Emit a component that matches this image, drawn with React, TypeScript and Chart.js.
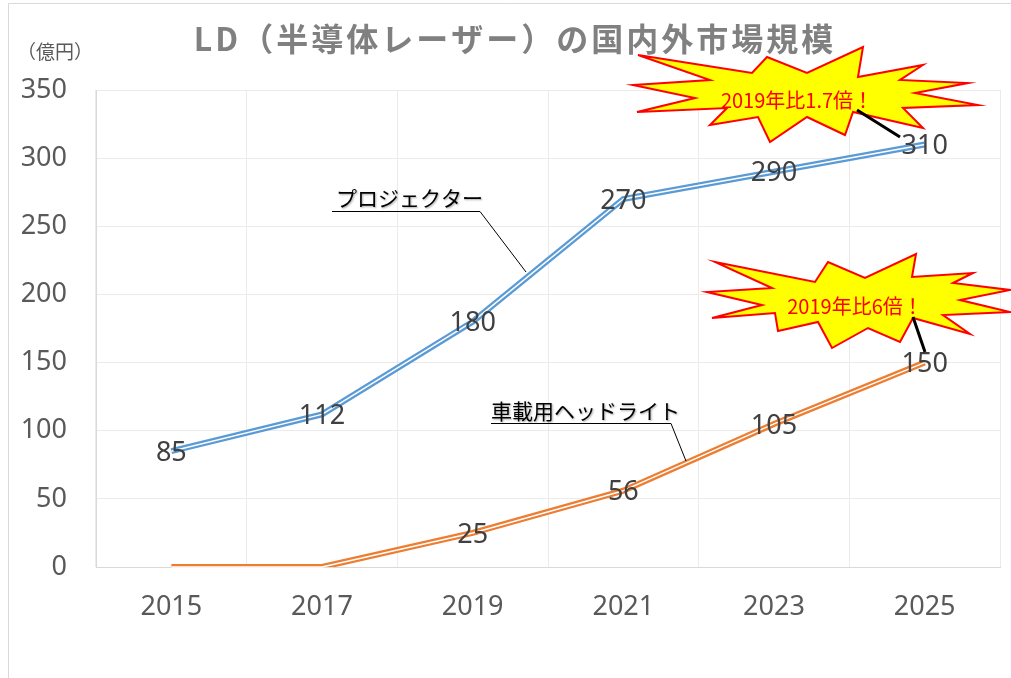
import { useEffect, useRef } from "react";
import { Chart, registerables } from "chart.js";

Chart.register(...registerables);

// ---- data ----
const years = ["2015", "2017", "2019", "2021", "2023", "2025"];
const projector = [85, 112, 180, 270, 290, 310];
const headlight = [0, 0, 25, 56, 105, 150];
const seriesNames = ["プロジェクター", "車載用ヘッドライト"];
const yMin = 0;
const yMax = 350;
const yStep = 50;
const titleText = "LD（半導体レーザー）の国内外市場規模";
const unitText = "（億円）";
const burstTexts = ["2019年比1.7倍！", "2019年比6倍！"];

const NUM_FONT = '"Noto Sans", "Open Sans", sans-serif';
const JP_FONT = '"Noto Sans CJK JP", "Noto Sans", sans-serif';

const BLUE = "#5B9BD5";
const ORANGE = "#ED7D31";

// starburst outlines (pixel space)
const burst1: [number, number][] = [
  [638, 55], [752, 73], [767, 57], [807, 73], [863, 47], [858, 77], [923, 65], [900, 80],
  [968, 83], [915, 93], [978, 105], [903, 108], [923, 128], [853, 112], [845, 135], [807, 117],
  [770, 142], [758, 117], [710, 125], [727, 108], [637, 112], [695, 98], [633, 85], [710, 80],
];
const burst2: [number, number][] = [
  [715, 262], [815, 282], [828, 262], [865, 278], [916, 254], [912, 277], [973, 273], [953, 283],
  [1010, 290], [960, 300], [1010, 312], [943, 315], [970, 334], [913, 318], [900, 342], [868, 328],
  [832, 348], [818, 322], [778, 331], [775, 313], [712, 318], [762, 305], [707, 292], [772, 288],
];

const overlayPlugin = {
  id: "overlay",
  afterDatasetsDraw(chart: any) {
    const ctx = chart.ctx as CanvasRenderingContext2D;
    // white centre stripe of the double line
    chart.data.datasets.forEach((_: any, i: number) => {
      const meta = chart.getDatasetMeta(i);
      ctx.save();
      ctx.beginPath();
      meta.data.forEach((pt: any, j: number) => {
        if (j === 0) ctx.moveTo(pt.x, pt.y);
        else ctx.lineTo(pt.x, pt.y);
      });
      ctx.strokeStyle = "#ffffff";
      ctx.lineWidth = 1.5;
      ctx.lineJoin = "round";
      ctx.stroke();
      ctx.restore();
    });
  },
  afterDraw(chart: any) {
    const ctx = chart.ctx as CanvasRenderingContext2D;
    ctx.save();

    // outer chart border (only top/left visible)
    ctx.strokeStyle = "#d9d9d9";
    ctx.lineWidth = 1;
    ctx.beginPath();
    ctx.moveTo(8.5, 678);
    ctx.lineTo(8.5, 3.5);
    ctx.lineTo(1011, 3.5);
    ctx.stroke();

    // data labels
    ctx.fillStyle = "#404040";
    ctx.font = `27px ${NUM_FONT}`;
    ctx.textAlign = "center";
    ctx.textBaseline = "middle";
    chart.data.datasets.forEach((ds: any, i: number) => {
      const meta = chart.getDatasetMeta(i);
      meta.data.forEach((pt: any, j: number) => {
        const v = ds.data[j];
        if (v === 0) return;
        ctx.fillText(String(v), pt.x, pt.y + 2);
      });
    });

    // title
    ctx.fillStyle = "#808080";
    ctx.font = `bold 32px ${JP_FONT}`;
    (ctx as any).letterSpacing = "3px";
    ctx.textAlign = "center";
    ctx.fillText(titleText, 515, 39);
    (ctx as any).letterSpacing = "0px";

    // unit
    ctx.fillStyle = "#595959";
    ctx.font = `19px ${JP_FONT}`;
    ctx.fillText(unitText, 55, 52);

    // series callouts
    ctx.fillStyle = "#000000";
    ctx.font = `21px ${JP_FONT}`;
    ctx.textAlign = "left";
    ctx.shadowColor = "rgba(0,0,0,0.35)";
    ctx.shadowBlur = 2;
    ctx.shadowOffsetX = 1;
    ctx.shadowOffsetY = 1;
    ctx.fillText(seriesNames[0], 336, 198);
    ctx.fillText(seriesNames[1], 491, 411);
    ctx.shadowColor = "rgba(0,0,0,0)";
    ctx.shadowBlur = 0;
    ctx.shadowOffsetX = 0;
    ctx.shadowOffsetY = 0;
    ctx.strokeStyle = "#000000";
    ctx.lineWidth = 1;
    ctx.beginPath();
    ctx.moveTo(332, 211.5);
    ctx.lineTo(480, 211.5);
    ctx.lineTo(526, 272);
    ctx.stroke();
    ctx.beginPath();
    ctx.moveTo(491, 423.5);
    ctx.lineTo(671, 423.5);
    ctx.lineTo(686, 461);
    ctx.stroke();

    // starbursts
    const drawBurst = (pts: [number, number][]) => {
      ctx.beginPath();
      pts.forEach(([x, y], k) => (k === 0 ? ctx.moveTo(x, y) : ctx.lineTo(x, y)));
      ctx.closePath();
      ctx.fillStyle = "#ffff00";
      ctx.fill();
      ctx.strokeStyle = "#ff0000";
      ctx.lineWidth = 2;
      ctx.lineJoin = "miter";
      ctx.stroke();
    };
    drawBurst(burst1);
    drawBurst(burst2);

    ctx.fillStyle = "#ff0000";
    ctx.font = `20px ${JP_FONT}`;
    ctx.textAlign = "center";
    ctx.textBaseline = "middle";
    ctx.fillText(burstTexts[0], 797, 100);
    ctx.fillText(burstTexts[1], 855, 306);

    // leader lines from bursts to values
    ctx.strokeStyle = "#000000";
    ctx.lineWidth = 3;
    ctx.beginPath();
    ctx.moveTo(857, 110);
    ctx.lineTo(900, 137);
    ctx.moveTo(913, 317);
    ctx.lineTo(925, 352);
    ctx.stroke();

    ctx.restore();
  },
};

export default function App() {
  const ref = useRef<HTMLCanvasElement | null>(null);

  useEffect(() => {
    if (!ref.current) return;
    const chart = new Chart(ref.current, {
      type: "line",
      data: {
        labels: years,
        datasets: [
          {
            label: seriesNames[0],
            data: projector,
            borderColor: BLUE,
            borderWidth: 6,
            pointRadius: 0,
            tension: 0,
            fill: false,
          },
          {
            label: seriesNames[1],
            data: headlight,
            borderColor: ORANGE,
            borderWidth: 6,
            pointRadius: 0,
            tension: 0,
            fill: false,
          },
        ],
      },
      options: {
        animation: false,
        responsive: false,
        maintainAspectRatio: false,
        layout: { padding: { top: 90, right: 11, left: 0, bottom: 0 } },
        plugins: {
          legend: { display: false },
          tooltip: { enabled: false },
          title: { display: false },
        },
        scales: {
          x: {
            offset: true,
            grid: { offset: true, color: "#ebebeb", drawTicks: false },
            border: { color: "#d9d9d9" },
            ticks: { font: { family: NUM_FONT, size: 27 }, color: "#595959", padding: 24 },
            afterFit: (s: any) => {
              s.height = 111;
            },
          },
          y: {
            min: yMin,
            max: yMax,
            grid: { color: "#ebebeb", drawTicks: false },
            border: { color: "#d9d9d9" },
            ticks: {
              stepSize: yStep,
              font: { family: NUM_FONT, size: 27 },
              color: "#595959",
              padding: 29,
            },
            afterFit: (s: any) => {
              s.width = 96;
            },
          },
        },
      },
      plugins: [overlayPlugin],
    });
    return () => chart.destroy();
  }, []);

  return (
    <div style={{ position: "fixed", left: 0, top: 0, width: 1011, height: 678, background: "#fff" }}>
      <canvas ref={ref} width={1011} height={678} style={{ width: 1011, height: 678, display: "block" }} />
    </div>
  );
}
